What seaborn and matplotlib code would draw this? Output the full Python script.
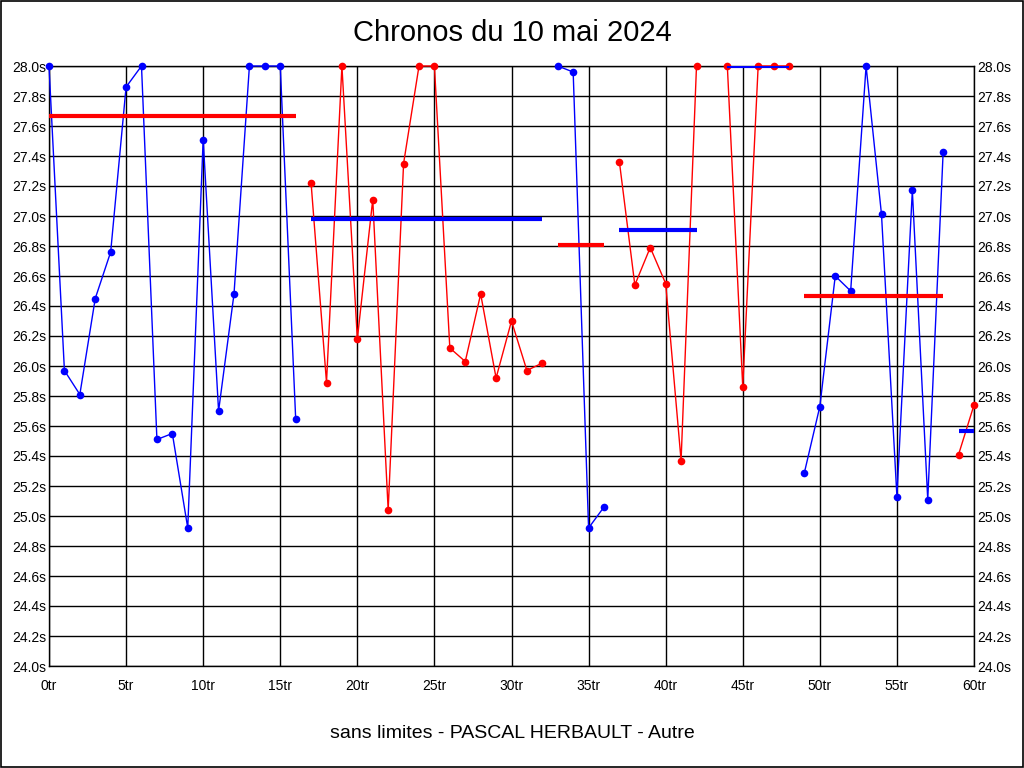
import numpy as np
import pandas as pd
import matplotlib
matplotlib.use('Agg')
import matplotlib.pyplot as plt
import seaborn as sns
from matplotlib.ticker import MultipleLocator, FuncFormatter

# temps par tour (lap 43 absent)
laps = list(range(0, 61))
times = [28.0, 25.97, 25.81, 26.45, 26.76, 27.86, 28.0, 25.51, 25.55, 24.92,
         27.51, 25.70, 26.48, 28.0, 28.0, 28.0, 25.65,
         27.22, 25.89, 28.0, 26.18, 27.11, 25.04, 27.35, 28.0, 28.0,
         26.12, 26.03, 26.48, 25.92, 26.30, 25.97, 26.02,
         28.0, 27.96, 24.92, 25.06,
         27.36, 26.54, 26.79, 26.55, 25.37, 28.0,
         np.nan,
         28.0, 25.86, 28.0, 28.0, 28.0,
         25.29, 25.73, 26.60, 26.50, 28.0, 27.01, 25.13, 27.17, 25.11, 27.43,
         25.41, 25.74]

# series (debut, fin, couleur, moyenne)
seg_start = [0, 17, 33, 37, 44, 49, 59]
seg_end = [16, 32, 36, 42, 48, 58, 60]
seg_color = ['blue', 'red', 'blue', 'red', 'red', 'blue', 'red']
seg_mean = [27.67, 26.98, 26.81, 26.91, 28.0, 26.47, 25.57]
mean_color = ['red', 'blue', 'red', 'blue', 'blue', 'red', 'blue']

seg_id = []
for lap in laps:
    sid = -1
    for i in range(len(seg_start)):
        if seg_start[i] <= lap <= seg_end[i]:
            sid = i
    seg_id.append(sid)

df = pd.DataFrame({'lap': laps, 'time': times, 'seg': seg_id})
df = df[df['seg'] >= 0].dropna()

sns.set_style('white')
plt.rcParams['font.family'] = ['Liberation Sans', 'DejaVu Sans']
plt.rcParams['text.color'] = 'black'
plt.rcParams['xtick.color'] = 'black'
plt.rcParams['ytick.color'] = 'black'

fig = plt.figure(figsize=(10.24, 7.68), dpi=100)
ax = fig.add_axes([49 / 1024, 1 - 666 / 768, 925 / 1024, 600 / 768])

sns.lineplot(data=df, x='lap', y='time', hue='seg',
             palette={i: c for i, c in enumerate(seg_color)},
             marker='o', markersize=5.5, markeredgewidth=0, linewidth=1,
             estimator=None, legend=False, ax=ax, clip_on=False, zorder=3)

ax.hlines(seg_mean, seg_start, seg_end, colors=mean_color, linewidth=3, zorder=4)

ax.set_xlim(0, 60)
ax.set_ylim(24.0, 28.0)
ax.xaxis.set_major_locator(MultipleLocator(5))
ax.yaxis.set_major_locator(MultipleLocator(0.2))
ax.xaxis.set_major_formatter(FuncFormatter(lambda v, p: f'{int(round(v))}tr'))
ax.yaxis.set_major_formatter(FuncFormatter(lambda v, p: f'{v:.1f}s'))
ax.tick_params(axis='both', length=0, labelsize=10, labelcolor='black')
ax.tick_params(axis='y', pad=2, labelright=True)
ax.tick_params(axis='x', pad=9)
ax.grid(True, color='black', linewidth=1)
ax.set_axisbelow(True)
for s in ax.spines.values():
    s.set_color('black')
    s.set_linewidth(1)
ax.set_xlabel('')
ax.set_ylabel('')

fig.text(0.5, 1 - 33 / 768, 'Chronos du 10 mai 2024', ha='center', va='center',
         fontsize=21, color='black')
fig.text(0.5, 1 - 733 / 768, 'sans limites - PASCAL HERBAULT - Autre', ha='center', va='center',
         fontsize=14, color='black')
fig.patches.append(plt.Rectangle((0.0005, 0.0007), 0.999, 0.9986, transform=fig.transFigure,
                                 fill=False, edgecolor='black', linewidth=1.2))

fig.savefig('out.png', dpi=100)
